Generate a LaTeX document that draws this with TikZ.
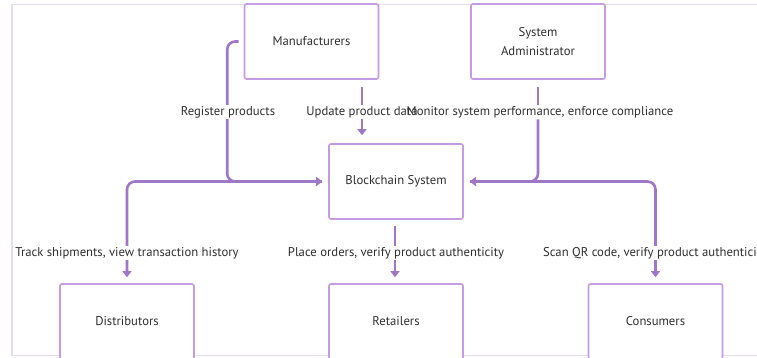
\documentclass[tikz,border=0pt]{standalone}
\usepackage{fontspec}
\setmainfont{PT Sans}
\usetikzlibrary{arrows.meta,calc}
\definecolor{boxc}{HTML}{C59BE3}
\definecolor{linec}{HTML}{9E78C6}
\definecolor{txt}{HTML}{303030}
\definecolor{framec}{HTML}{E6DCF2}
\begin{document}
\begin{tikzpicture}[x=1pt,y=-1pt,
  box/.style={draw=boxc, line width=1.6pt, rounded corners=2pt, minimum width=134pt, minimum height=75pt, fill=white, text=txt, font=\fontsize{12.7}{15}\selectfont, align=center, inner sep=0pt},
  wire/.style={draw=linec, line width=2.6pt, rounded corners=8pt},
  conn/.style={wire, -{Triangle[length=6pt,width=9pt]}},
  lab/.style={fill=white, text=txt, font=\fontsize{12.7}{15}\selectfont, inner sep=1.5pt},
  labnf/.style={text=txt, font=\fontsize{12.7}{15}\selectfont, inner sep=1.5pt}]
\useasboundingbox (0,0) rectangle (757,358);
\clip (0,0) rectangle (757,358);
\draw[framec, line width=1.2pt] (12,4.5) rectangle (790,355.5);
% nodes
\node[box] (man) at (311.5,41.5) {Manufacturers};
\node[box] (adm) at (538,41.5) {System\\[4pt]Administrator};
\node[box] (bc) at (396,181.5) {Blockchain System};
\node[box] (dis) at (127,321.5) {Distributors};
\node[box] (ret) at (396,321.5) {Retailers};
\node[box] (con) at (655.5,321.5) {Consumers};
% coordinates
\coordinate (bcW) at ($(bc.west)+(-6,0)$);
\coordinate (bcE) at ($(bc.east)+(6,0)$);
\coordinate (manL) at ($(man.west)+(-5,0)$);
\coordinate (regX) at ($(bc.west)+(-101,0)$);
\coordinate (manB) at ($(man.south)+(50.5,7)$);
\coordinate (bcT) at ($(bc.north)+(-34,-8)$);
\coordinate (admB) at ($(adm.south)+(0,7)$);
\coordinate (bcB) at ($(bc.south)+(-1,6)$);
\coordinate (disT) at ($(dis.north)+(0,-6)$);
\coordinate (retT) at ($(ret.north)+(-1,-6)$);
\coordinate (conT) at ($(con.north)+(0,-6)$);
% connectors
\draw[conn] (bcW) -| (disT);
\draw[conn] (bcE) -| (conT);
\draw[conn] (manL) -| (regX) -- (bcW);
\draw[conn] (manB) -- (bcT);
\draw[conn] (bcB) -- (retT);
% labels
\node[lab] (lreg) at (228,112) {Register products};
\node[lab] (lupd) at (362,112) {Update product data};
\node[labnf] (lmon) at (540,112) {Monitor system performance, enforce compliance};
\draw[wire] (admB) -- (admB |- lmon.north);
\draw[conn] (admB |- lmon.south) |- (bcE);
\node[lab] (ltrk) at (127,253) {Track shipments, view transaction history};
\node[lab] (lpla) at (396,253) {Place orders, verify product authenticity};
\node[lab] (lscn) at (655,253) {Scan QR code, verify product authenticity};
\end{tikzpicture}
\end{document}
